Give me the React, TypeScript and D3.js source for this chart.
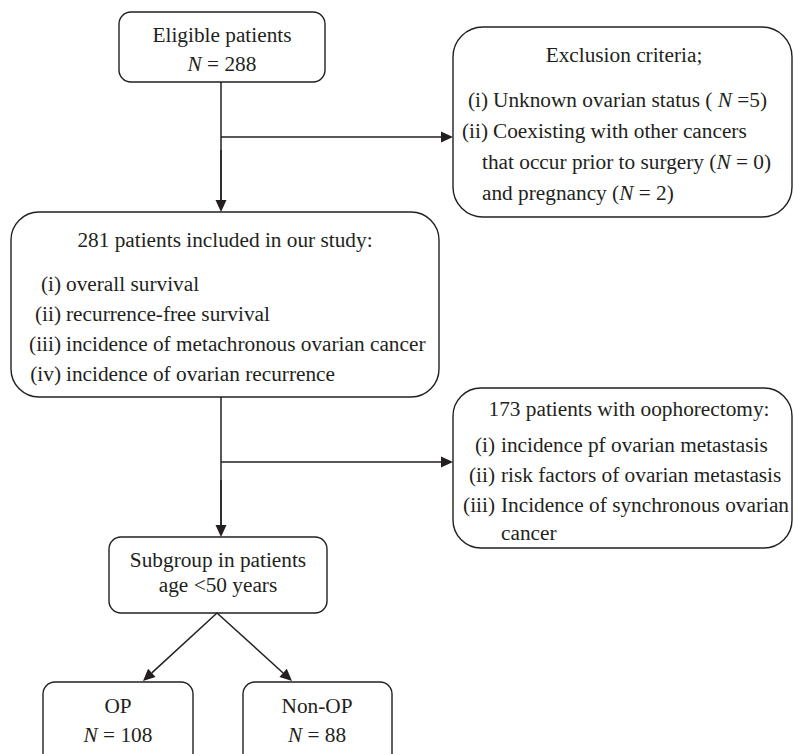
import React, { useRef, useEffect } from 'react';
import * as d3 from 'd3';

// Text content of the flowchart
const eligibleLines = ['Eligible patients', 'N = 288'];
const exclusionTitle = 'Exclusion criteria;';
const exclusionLabels = ['(i)', '(ii)', '', ''];
const exclusionTexts = [
  'Unknown ovarian status ( N =5)',
  'Coexisting with other cancers',
  'that occur prior to surgery (N = 0)',
  'and pregnancy (N = 2)',
];
const studyTitle = '281 patients included in our study:';
const studyLabels = ['(i)', '(ii)', '(iii)', '(iv)'];
const studyTexts = [
  'overall survival',
  'recurrence-free survival',
  'incidence of metachronous ovarian cancer',
  'incidence of ovarian recurrence',
];
const oophTitle = '173 patients with oophorectomy:';
const oophLabels = ['(i)', '(ii)', '(iii)', ''];
const oophTexts = [
  'incidence pf ovarian metastasis',
  'risk factors of ovarian metastasis',
  'Incidence of synchronous ovarian',
  'cancer',
];
const subgroupLines = ['Subgroup in patients', 'age <50 years'];
const opLines = ['OP', 'N = 108'];
const nonOpLines = ['Non-OP', 'N = 88'];

// Layout
const W = 793;
const H = 754;
const FONT = "'Liberation Serif', 'Times New Roman', serif";
const FS = 21.3;
const INK = '#231f20';

interface Box { x: number; y: number; w: number; h: number; r: number }

const boxes: Record<string, Box> = {
  eligible: { x: 119, y: 12, w: 206, h: 70, r: 12 },
  exclusion: { x: 453, y: 27, w: 339, h: 190, r: 30 },
  study: { x: 11, y: 212, w: 428, h: 185, r: 28 },
  ooph: { x: 453, y: 388, w: 339, h: 160, r: 28 },
  subgroup: { x: 109, y: 537, w: 218, h: 76, r: 12 },
  op: { x: 43, y: 682, w: 150, h: 90, r: 12 },
  nonOp: { x: 243, y: 682, w: 149, h: 90, r: 12 },
};

const trunkX = 221;

// italic "N" where it stands alone
const addRich = (
  sel: d3.Selection<SVGTextElement, unknown, null, undefined>,
  s: string
) => {
  s.split(/(\bN\b)/).forEach(part => {
    if (!part) return;
    const t = sel.append('tspan').text(part);
    if (part === 'N') t.attr('font-style', 'italic');
  });
};

const App: React.FC = () => {
  const svgRef = useRef<SVGSVGElement>(null);

  useEffect(() => {
    if (!svgRef.current) return;
    const svg = d3.select(svgRef.current);
    svg.selectAll('*').remove();

    const g = svg.append('g');

    // boxes
    Object.values(boxes).forEach(b => {
      g.append('rect')
        .attr('x', b.x)
        .attr('y', b.y)
        .attr('width', b.w)
        .attr('height', b.h)
        .attr('rx', b.r)
        .attr('fill', '#fff')
        .attr('stroke', INK)
        .attr('stroke-width', 1.4);
    });

    const text = (
      x: number,
      y: number,
      s: string,
      anchor: 'start' | 'middle' | 'end' = 'start'
    ) => {
      const t = g
        .append('text')
        .attr('x', x)
        .attr('y', y)
        .attr('text-anchor', anchor)
        .attr('font-family', FONT)
        .attr('font-size', FS)
        .attr('fill', INK);
      addRich(t, s);
      return t;
    };

    // centered multi-line boxes
    const centered = (lines: string[], cx: number, ys: number[]) => {
      lines.forEach((l, i) => text(cx, ys[i], l, 'middle'));
    };

    centered(eligibleLines, 222, [42, 71]);
    centered(subgroupLines, 218, [567, 592]);
    centered(opLines, 118, [713, 742]);
    centered(nonOpLines, 317, [713, 742]);

    // list boxes
    const list = (
      title: string,
      titleX: number,
      titleY: number,
      labels: string[],
      texts: string[],
      labelEnd: number,
      textX: number,
      contX: number,
      ys: number[]
    ) => {
      text(titleX, titleY, title, 'middle');
      texts.forEach((s, i) => {
        if (labels[i]) {
          text(labelEnd, ys[i], labels[i], 'end');
          text(textX, ys[i], s);
        } else {
          text(contX, ys[i], s);
        }
      });
    };

    list(exclusionTitle, 624, 62, exclusionLabels, exclusionTexts, 488, 493, 482, [107, 138, 169, 200]);
    list(studyTitle, 225, 247, studyLabels, studyTexts, 61, 66, 66, [291, 321, 351, 381]);
    list(oophTitle, 629, 416, oophLabels, oophTexts, 495, 501, 501, [452, 482, 512, 540]);

    // connectors
    const lines = g.append('g').attr('stroke', INK).attr('stroke-width', 1.5);
    lines.append('line')
      .attr('x1', trunkX).attr('y1', boxes.eligible.y + boxes.eligible.h)
      .attr('x2', trunkX).attr('y2', boxes.study.y - 10);
    lines.append('line')
      .attr('x1', trunkX).attr('y1', boxes.study.y + boxes.study.h)
      .attr('x2', trunkX).attr('y2', boxes.subgroup.y - 10);

    const arrows: [number, number, number, number][] = [
      [trunkX, 150, trunkX, boxes.study.y],
      [trunkX, 137, boxes.exclusion.x, 137],
      [trunkX, 480, trunkX, boxes.subgroup.y],
      [trunkX, 462, boxes.ooph.x, 462],
      [217, boxes.subgroup.y + boxes.subgroup.h, 143, boxes.op.y - 1],
      [217, boxes.subgroup.y + boxes.subgroup.h, 292, boxes.nonOp.y - 1],
    ];

    const headLen = 12;
    const headHalf = 5.5;
    arrows.forEach(([x1, y1, x2, y2]) => {
      const a = Math.atan2(y2 - y1, x2 - x1);
      const bx = x2 - headLen * Math.cos(a);
      const by = y2 - headLen * Math.sin(a);
      lines.append('line')
        .attr('x1', x1).attr('y1', y1)
        .attr('x2', bx).attr('y2', by);
      const p = d3.path();
      p.moveTo(x2, y2);
      p.lineTo(bx + headHalf * Math.sin(a), by - headHalf * Math.cos(a));
      p.lineTo(bx - headHalf * Math.sin(a), by + headHalf * Math.cos(a));
      p.closePath();
      g.append('path').attr('d', p.toString()).attr('fill', INK);
    });
  }, []);

  return (
    <svg
      ref={svgRef}
      width={W}
      height={H}
      style={{ position: 'absolute', left: 0, top: 0, background: '#fff', display: 'block' }}
    />
  );
};

export default App;
